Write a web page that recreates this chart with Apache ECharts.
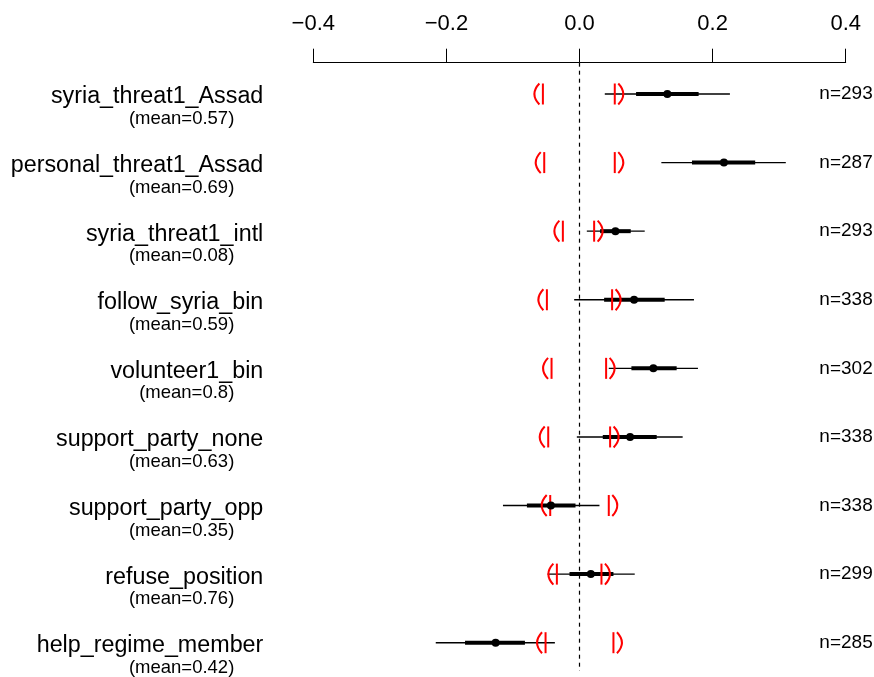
<!DOCTYPE html>
<html>
<head>
<meta charset="utf-8">
<script src="https://cdn.jsdelivr.net/npm/echarts@6/dist/echarts.min.js"></script>
<style>
  html, body { margin: 0; padding: 0; background: #fff; overflow: hidden; }
  #chart { width: 874px; height: 677px; }
</style>
</head>
<body>
<div id="chart"></div>
<script>
// ---- data ----
const labels = ['syria_threat1_Assad', 'personal_threat1_Assad', 'syria_threat1_intl', 'follow_syria_bin',
  'volunteer1_bin', 'support_party_none', 'support_party_opp', 'refuse_position', 'help_regime_member'];
const means = ['0.57', '0.69', '0.08', '0.59', '0.8', '0.63', '0.35', '0.76', '0.42'];
const ns = [293, 287, 293, 338, 302, 338, 338, 299, 285];
const estimate = [0.132, 0.217, 0.054, 0.082, 0.111, 0.076, -0.043, 0.017, -0.126];
const ciLow = [0.038, 0.123, 0.011, -0.008, 0.044, -0.004, -0.115, -0.048, -0.216];
const ciHigh = [0.226, 0.310, 0.098, 0.172, 0.178, 0.155, 0.030, 0.083, -0.037];
const seLow = [0.085, 0.169, 0.031, 0.037, 0.078, 0.035, -0.079, -0.015, -0.172];
const seHigh = [0.179, 0.264, 0.077, 0.128, 0.146, 0.116, -0.006, 0.051, -0.082];
const boundLow = [-0.055, -0.053, -0.025, -0.049, -0.042, -0.047, -0.044, -0.034, -0.051];
const boundHigh = [0.053, 0.053, 0.022, 0.049, 0.040, 0.046, 0.044, 0.033, 0.051];
const xTicks = [-0.4, -0.2, 0.0, 0.2, 0.4];

const FONT = "'Liberation Sans', Arial, Helvetica, sans-serif";
const rows = labels.map((l, i) => [i, estimate[i], ciLow[i], ciHigh[i], seLow[i], seHigh[i], boundLow[i], boundHigh[i]]);

const chart = echarts.init(document.getElementById('chart'), null, { renderer: 'canvas', width: 874, height: 677 });

function renderRow(params, api) {
  const i = api.value(0);
  const y = api.coord([0, i])[1];
  const X = v => api.coord([v, i])[0];
  const red = '#ff0000';
  const bl = X(api.value(6)), bh = X(api.value(7));
  const h = 10.5;
  return {
    type: 'group',
    children: [
      { type: 'line', shape: { x1: X(api.value(2)), y1: y, x2: X(api.value(3)), y2: y },
        style: { stroke: '#000', lineWidth: 1.4 } },
      { type: 'line', shape: { x1: X(api.value(4)), y1: y, x2: X(api.value(5)), y2: y },
        style: { stroke: '#000', lineWidth: 4 } },
      { type: 'line', shape: { x1: bl, y1: y - h, x2: bl, y2: y + h },
        style: { stroke: red, lineWidth: 2 } },
      { type: 'bezierCurve', shape: { x1: bl - 3.5, y1: y - h, cpx1: bl - 13.5, cpy1: y, x2: bl - 3.5, y2: y + h },
        style: { stroke: red, lineWidth: 2, fill: null } },
      { type: 'line', shape: { x1: bh, y1: y - h, x2: bh, y2: y + h },
        style: { stroke: red, lineWidth: 2 } },
      { type: 'bezierCurve', shape: { x1: bh + 3.5, y1: y - h, cpx1: bh + 13.5, cpy1: y, x2: bh + 3.5, y2: y + h },
        style: { stroke: red, lineWidth: 2, fill: null } },
      { type: 'circle', shape: { cx: X(api.value(1)), cy: y, r: 4 },
        style: { fill: '#000' } }
    ]
  };
}

const option = {
  animation: false,
  backgroundColor: '#fff',
  textStyle: { fontFamily: FONT },
  grid: { left: 313.3, width: 532.4, top: 59.7, height: 617.3, containLabel: false, outerBoundsMode: 'none' },
  xAxis: {
    type: 'value', position: 'top', min: -0.4, max: 0.4, interval: 0.2, offset: -3,
    axisLine: { show: true, lineStyle: { color: '#000', width: 1 } },
    axisTick: { show: true, length: 14, lineStyle: { color: '#000', width: 1 } },
    splitLine: { show: false },
    axisLabel: {
      color: '#000', fontSize: 22, fontFamily: FONT, margin: 28,
      formatter: v => {
        const t = xTicks.find(k => Math.abs(k - v) < 1e-9);
        const val = t === undefined ? v : t;
        return (val < -1e-9 ? '\u2212' : '') + Math.abs(val).toFixed(1);
      }
    }
  },
  yAxis: [
    {
      type: 'category', data: labels, inverse: true, position: 'left',
      axisLine: { show: false }, axisTick: { show: false }, splitLine: { show: false },
      axisLabel: { interval: 0, color: '#000', fontSize: 23.3, fontFamily: FONT, margin: 50,
        verticalAlign: 'top', lineHeight: 6 }
    },
    {
      type: 'category', data: means.map(m => '(mean=' + m + ')'), inverse: true, position: 'left',
      axisLine: { show: false }, axisTick: { show: false }, splitLine: { show: false },
      axisLabel: { interval: 0, color: '#000', fontSize: 18.5, fontFamily: FONT, margin: 79,
        verticalAlign: 'top', lineHeight: 50 }
    },
    {
      type: 'category', data: ns.map(n => 'n=' + n), inverse: true, position: 'right', offset: 27,
      axisLine: { show: false }, axisTick: { show: false }, splitLine: { show: false },
      axisLabel: { interval: 0, inside: true, color: '#000', fontSize: 19, fontFamily: FONT, margin: 0 }
    }
  ],
  series: [
    {
      type: 'custom', xAxisIndex: 0, yAxisIndex: 0, silent: true, z: 1,
      data: [[0]],
      renderItem: (params, api) => {
        const cs = params.coordSys;
        const x = api.coord([api.value(0), 0])[0];
        return { type: 'line', shape: { x1: x, y1: cs.y + 3, x2: x, y2: cs.y + cs.height - 6 },
          style: { stroke: '#000', lineWidth: 1.2, lineDash: [4, 4] } };
      },
      encode: { x: 0 }
    },
    {
      type: 'custom', xAxisIndex: 0, yAxisIndex: 0, silent: true, z: 2,
      data: rows,
      encode: { x: [2, 3], y: 0 },
      renderItem: renderRow
    }
  ]
};
chart.setOption(option);
</script>
</body>
</html>
